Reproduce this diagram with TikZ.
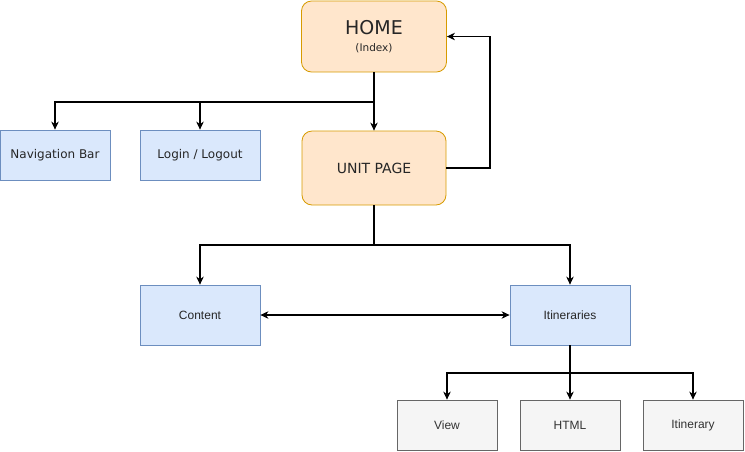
\documentclass[tikz,border=0pt]{standalone}
\usepackage{fontspec}
\setmainfont{Liberation Sans}
\newfontfamily\tahfont{DejaVu Sans}
\usetikzlibrary{arrows.meta}
\definecolor{orfill}{HTML}{FFE6CC}
\definecolor{ordraw}{HTML}{D79B00}
\definecolor{blfill}{HTML}{DAE8FC}
\definecolor{bldraw}{HTML}{6C8EBF}
\definecolor{gyfill}{HTML}{F5F5F5}
\definecolor{gydraw}{HTML}{666666}
\definecolor{gytext}{HTML}{333333}
\tikzset{
  pagebox/.style={draw=ordraw, fill=orfill, rounded corners=10pt, minimum width=145pt, line width=0.8pt, inner sep=0pt, align=center, text=black!85},
  bluebox/.style={draw=bldraw, fill=blfill, minimum width=120pt, minimum height=50pt, line width=0.8pt, inner sep=0pt, text=black!85},
  graybox/.style={draw=gydraw, fill=gyfill, minimum width=100pt, minimum height=50pt, line width=0.8pt, inner sep=0pt, text=gytext, font=\fontsize{12}{14}\selectfont},
  tip/.tip={Stealth[length=8pt,width=7.5pt,inset=2.5pt]},
  conn/.style={draw=black, line width=1.1pt, -tip},
  conn2/.style={draw=black, line width=1.1pt, tip-tip}
}
\begin{document}
\begin{tikzpicture}[x=1pt,y=-1pt]
\useasboundingbox (0,0) rectangle (745,451);
\node[pagebox, minimum height=71pt] (home) at (374,36.5) {\tahfont\fontsize{19}{22}\selectfont HOME\\[5pt]\tahfont\fontsize{10.5}{12}\selectfont (Index)};
\node[pagebox, minimum height=74pt, minimum width=144pt, font=\tahfont\fontsize{14}{16}\selectfont] (unit) at (374,168) {UNIT PAGE};
\node[bluebox, minimum width=110pt, font=\tahfont\fontsize{12}{14}\selectfont] (nav) at (55,155) {Navigation Bar};
\node[bluebox, font=\tahfont\fontsize{12}{14}\selectfont] (login) at (200,155) {Login / Logout};
\node[bluebox, minimum height=60pt, font=\fontsize{12}{14}\selectfont] (content) at (200,315) {Content};
\node[bluebox, minimum height=60pt, font=\fontsize{12}{14}\selectfont] (itin) at (570,315) {Itineraries};
\node[graybox] (view) at (447,425) {View};
\node[graybox] (html) at (570,425) {HTML};
\node[graybox] (itiny) at (693,425) {Itinerary};
\coordinate (b1) at (374,102);
\coordinate (b2) at (374,245);
\coordinate (b3) at (570,373);
\draw[conn] (home.south) -- (unit.north);
\draw[conn] (b1) -| (nav.north);
\draw[conn] (b1) -| (login.north);
\draw[conn] (unit.east) -- (490,168) |- (home.east);
\draw[conn] (unit.south) -- (b2) -| (content.north);
\draw[conn] (b2) -| (itin.north);
\draw[conn2] (content.east) -- (itin.west);
\draw[conn] (itin.south) -- (html.north);
\draw[conn] (b3) -| (view.north);
\draw[conn] (b3) -| (itiny.north);
\end{tikzpicture}
\end{document}
